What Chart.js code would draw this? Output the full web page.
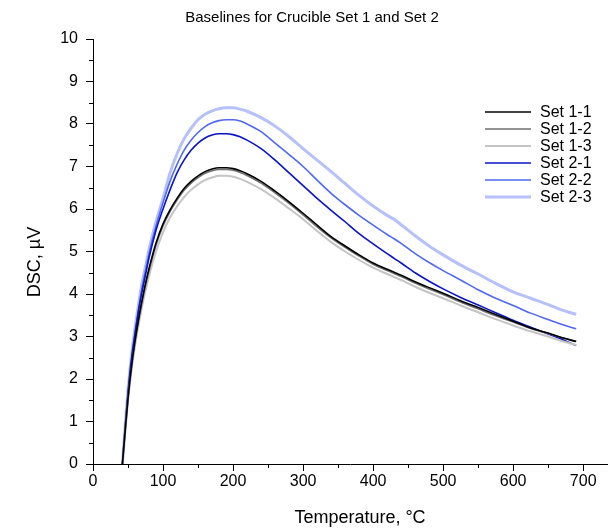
<!DOCTYPE html>
<html>
<head>
<meta charset="utf-8">
<script src="https://cdn.jsdelivr.net/npm/chart.js@4/dist/chart.umd.min.js"></script>
<style>
html,body{margin:0;padding:0;background:#fff;overflow:hidden;}
#c{display:block;}
</style>
</head>
<body>
<canvas id="c" width="608" height="532"></canvas>
<script>
const chartTitle = "Baselines for Crucible Set 1 and Set 2";
const xTitle = "Temperature, \u00B0C";
const yTitle = "DSC, \u00B5V";
const seriesNames = ["Set 1-1", "Set 1-2", "Set 1-3", "Set 2-1", "Set 2-2", "Set 2-3"];
const temps = [42,46,50,55,60,65,70,75,80,90,100,110,120,130,140,150,160,170,180,190,200,210,220,240,260,280,300,320,340,360,380,400,420,430,440,460,480,500,525,550,575,600,625,650,670,690];
const set11 = [0,0.8,1.55,2.3,2.9,3.4,3.85,4.25,4.6,5.2,5.65,5.98,6.25,6.48,6.65,6.78,6.88,6.94,6.97,6.97,6.95,6.9,6.83,6.65,6.42,6.17,5.9,5.62,5.35,5.13,4.92,4.73,4.58,4.51,4.44,4.29,4.15,4.02,3.84,3.68,3.52,3.36,3.2,3.08,2.97,2.88];
const set12 = [0,0.78,1.52,2.27,2.86,3.36,3.8,4.2,4.55,5.15,5.6,5.94,6.21,6.44,6.61,6.74,6.84,6.9,6.93,6.93,6.91,6.86,6.79,6.61,6.38,6.13,5.86,5.58,5.32,5.1,4.89,4.7,4.55,4.48,4.41,4.26,4.12,3.99,3.81,3.65,3.49,3.34,3.19,3.07,2.97,2.89];
const set13 = [0,0.75,1.48,2.2,2.78,3.27,3.7,4.08,4.42,5.0,5.45,5.8,6.06,6.28,6.45,6.58,6.68,6.74,6.78,6.78,6.76,6.71,6.64,6.47,6.25,6.01,5.76,5.48,5.22,5.0,4.8,4.62,4.47,4.4,4.33,4.17,4.03,3.9,3.73,3.57,3.41,3.26,3.12,3.0,2.89,2.8];
const set21 = [0,0.85,1.65,2.45,3.05,3.6,4.05,4.45,4.85,5.5,6.0,6.45,6.85,7.15,7.38,7.55,7.67,7.74,7.77,7.77,7.75,7.7,7.62,7.42,7.15,6.85,6.55,6.25,5.97,5.7,5.42,5.18,4.95,4.84,4.73,4.5,4.3,4.12,3.92,3.74,3.56,3.38,3.22,3.06,2.93,2.79];
const set22 = [0,0.9,1.7,2.5,3.1,3.65,4.15,4.55,4.95,5.6,6.15,6.65,7.05,7.38,7.62,7.8,7.94,8.03,8.08,8.1,8.1,8.07,8.0,7.82,7.55,7.28,7.0,6.68,6.37,6.1,5.85,5.62,5.4,5.3,5.19,4.95,4.74,4.55,4.33,4.1,3.9,3.73,3.55,3.4,3.28,3.18];
const set23 = [0,0.9,1.75,2.55,3.2,3.75,4.25,4.65,5.05,5.7,6.25,6.85,7.3,7.65,7.9,8.1,8.23,8.31,8.36,8.38,8.38,8.35,8.3,8.15,7.95,7.7,7.42,7.15,6.88,6.6,6.32,6.07,5.85,5.76,5.63,5.37,5.13,4.92,4.68,4.47,4.25,4.05,3.9,3.75,3.62,3.52];
const seriesValues = [set11, set12, set13, set21, set22, set23];
const seriesColors = ["#000000", "#6f6f6f", "#c4c4c4", "#0a14c4", "#5068f2", "#b6c0fa"];
const seriesWidths = [1.6, 1.6, 2, 1.6, 1.6, 3];
const xTickLabels = [0,100,200,300,400,500,600,700];
const yTickLabels = [0,1,2,3,4,5,6,7,8,9,10];

const FONT = "'Liberation Sans', Arial, sans-serif";

const datasets = seriesNames.map((name, i) => ({
  label: name,
  data: temps.map((t, k) => ({x: t, y: seriesValues[i][k]})),
  borderColor: seriesColors[i],
  backgroundColor: seriesColors[i],
  borderWidth: seriesWidths[i],
  pointRadius: 0,
  fill: false,
  cubicInterpolationMode: 'monotone'
}));

const decorPlugin = {
  id: 'decor',
  afterDraw(chart) {
    const ctx = chart.ctx;
    const xs = chart.scales.x, ys = chart.scales.y;
    ctx.save();
    ctx.strokeStyle = '#000';
    ctx.lineWidth = 1;
    ys.ticks.forEach(t => {
      if (Math.abs(t.value - Math.round(t.value)) > 1e-6) {
        const py = Math.round(ys.getPixelForValue(t.value)) + 0.5;
        ctx.beginPath(); ctx.moveTo(ys.right - 4, py); ctx.lineTo(ys.right, py); ctx.stroke();
      }
    });
    xs.ticks.forEach(t => {
      if (t.value % 100 !== 0) {
        const px = Math.round(xs.getPixelForValue(t.value)) + 0.5;
        ctx.beginPath(); ctx.moveTo(px, xs.top); ctx.lineTo(px, xs.top + 4); ctx.stroke();
      }
    });
    ctx.fillStyle = '#000';
    ctx.font = '15px ' + FONT;
    ctx.textAlign = 'center';
    ctx.textBaseline = 'middle';
    ctx.fillText(chartTitle, 312, 18);
    ctx.font = '18px ' + FONT;
    ctx.fillText(xTitle, 360, 518);
    ctx.save();
    ctx.translate(35, 262);
    ctx.rotate(-Math.PI / 2);
    ctx.fillText(yTitle, 0, 0);
    ctx.restore();
    ctx.font = '16px ' + FONT;
    ctx.textAlign = 'left';
    chart.data.datasets.forEach((ds, i) => {
      const y = 112 + i * 17;
      ctx.strokeStyle = ds.borderColor;
      ctx.lineWidth = ds.borderWidth;
      ctx.beginPath(); ctx.moveTo(485, y); ctx.lineTo(531, y); ctx.stroke();
      ctx.fillStyle = '#000';
      ctx.fillText(ds.label, 540, y + 1);
    });
    ctx.restore();
  }
};

new Chart(document.getElementById('c'), {
  type: 'line',
  data: { datasets },
  options: {
    responsive: false,
    devicePixelRatio: 1,
    animation: false,
    layout: { padding: { top: 39, right: 1, left: 0, bottom: 0 } },
    plugins: { legend: { display: false }, title: { display: false }, tooltip: { enabled: false } },
    scales: {
      x: {
        type: 'linear',
        min: 0, max: 734,
        afterBuildTicks: (s) => { s.ticks = []; for (let v = 0; v <= 700; v += 50) s.ticks.push({value: v}); },
        afterFit: (s) => { s.height = 68; },
        border: { display: true, color: '#000', width: 1 },
        grid: { display: true, drawOnChartArea: false, drawTicks: true, tickLength: 7,
                tickColor: (c) => (c.tick && c.tick.value % 100 === 0) ? '#000' : 'rgba(0,0,0,0)' },
        ticks: {
          autoSkip: false, maxRotation: 0, color: '#000', padding: 1,
          font: { family: FONT, size: 16 },
          callback: (v) => xTickLabels.includes(v) ? String(v) : ''
        }
      },
      y: {
        type: 'linear',
        min: 0, max: 10,
        afterBuildTicks: (s) => { s.ticks = []; for (let v = 0; v <= 10.001; v += 0.5) s.ticks.push({value: Math.round(v * 2) / 2}); },
        afterFit: (s) => { s.width = 93; },
        border: { display: true, color: '#000', width: 1 },
        grid: { display: true, drawOnChartArea: false, drawTicks: true, tickLength: 7,
                tickColor: (c) => (c.tick && Number.isInteger(c.tick.value)) ? '#000' : 'rgba(0,0,0,0)' },
        ticks: {
          autoSkip: false, color: '#000', padding: 8,
          font: { family: FONT, size: 16 },
          callback: (v) => yTickLabels.includes(v) ? String(v) : ''
        }
      }
    }
  },
  plugins: [decorPlugin]
});
</script>
</body>
</html>
